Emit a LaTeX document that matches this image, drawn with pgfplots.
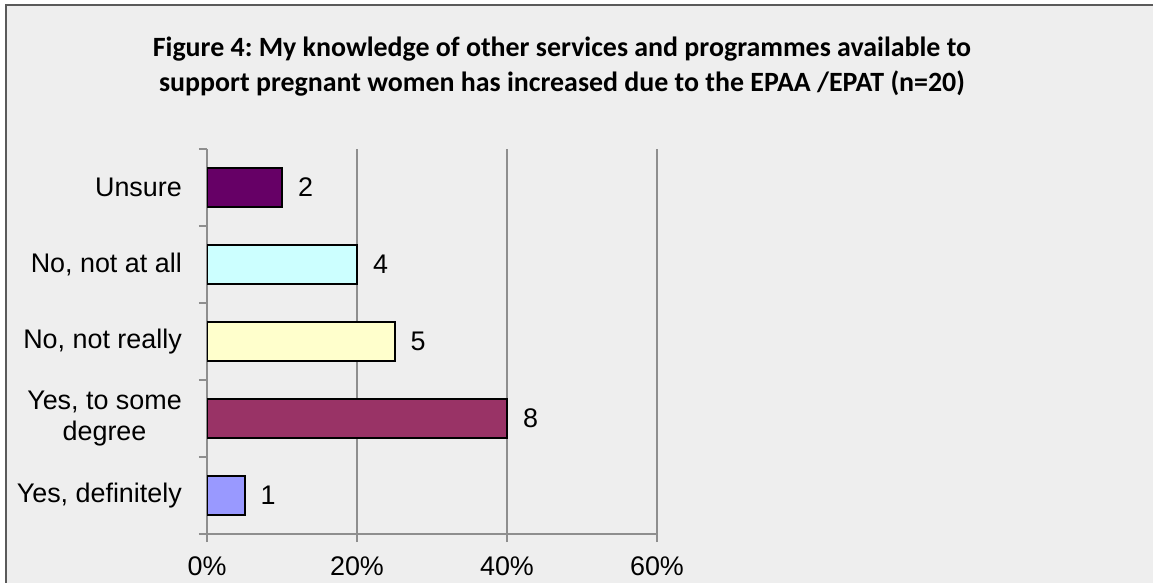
\documentclass[border=0pt]{standalone}
\usepackage{fontspec}
\setmainfont{Liberation Sans}
\newfontfamily\calibri{Carlito}
\usepackage{pgfplots}
\pgfplotsset{compat=1.18}
\definecolor{bg}{HTML}{EEEEEE}
\definecolor{frame}{HTML}{5A5A5A}
\definecolor{axisgray}{HTML}{8E8E8E}
\definecolor{cUnsure}{HTML}{660066}
\definecolor{cNotAll}{HTML}{CCFFFF}
\definecolor{cNotReally}{HTML}{FFFFCC}
\definecolor{cSome}{HTML}{993366}
\definecolor{cDef}{HTML}{9999FF}
\frenchspacing
\begin{document}
\begin{tikzpicture}
\path[use as bounding box] (0,0) rectangle (1153bp,583bp);
\begin{scope}
\clip (0,0) rectangle (1153bp,583bp);
\fill[white] (0,0) rectangle (1153bp,583bp);
\fill[bg] (6bp,0bp) rectangle (1153bp,578bp);
\draw[line width=1.5bp, draw=frame] (6bp,0bp) -- (6bp,578bp) -- (1153bp,578bp);
\end{scope}
\node[anchor=base, font=\calibri\bfseries\fontsize{28}{32}\selectfont] at (562bp,526bp) {Figure 4: My knowledge of other services and programmes available to};
\node[anchor=base, font=\calibri\bfseries\fontsize{28}{32}\selectfont] at (562bp,491bp) {support pregnant women has increased due to the EPAA /EPAT (n=20)};
\begin{axis}[
  at={(207bp,49bp)}, anchor=south west,
  scale only axis, width=450bp, height=385bp,
  xmin=0, xmax=60, ymin=-0.5, ymax=4.5,
  axis x line*=bottom, axis y line*=left,
  axis line style={draw=axisgray, line width=1.8bp},
  tick style={draw=axisgray, line width=1.8bp},
  tick align=outside, major tick length=8bp,
  xmajorgrids, grid style={draw=axisgray, line width=1.8bp},
  xtick={0,20,40,60},
  /pgf/number format/assume math mode=true,
  xticklabel={\pgfmathprintnumber{\tick}\%},
  xticklabel style={font=\fontsize{27}{31}\selectfont, anchor=north, inner sep=0pt, yshift=-14.7bp},
  ytick={-0.5,0.5,1.5,2.5,3.5,4.5},
  yticklabels={},
  extra y ticks={0,1,2,3,4},
  extra y tick labels={{Yes, definitely},{Yes, to some\\degree},{No, not really},{No, not at all},Unsure},
  extra y tick style={major tick length=0pt, yticklabel style={font=\fontsize{27}{31}\selectfont, anchor=east, align=center, inner sep=0pt, xshift=-25bp}},
  xbar, bar width=0.5, bar shift=0pt,
  point meta=explicit symbolic,
  nodes near coords,
  nodes near coords align={anchor=west},
  every node near coord/.append style={font=\fontsize{27}{31}\selectfont, anchor=west, inner sep=0pt, xshift=15bp, text=black},
]
\addplot[fill=cDef, draw=black, line width=2bp] coordinates {(5,0) [1]};
\addplot[fill=cSome, draw=black, line width=2bp] coordinates {(40,1) [8]};
\addplot[fill=cNotReally, draw=black, line width=2bp] coordinates {(25,2) [5]};
\addplot[fill=cNotAll, draw=black, line width=2bp] coordinates {(20,3) [4]};
\addplot[fill=cUnsure, draw=black, line width=2bp] coordinates {(10,4) [2]};
\end{axis}
\fill[bg] (1100bp,0) rectangle (1153bp,570bp);
\end{tikzpicture}
\end{document}
